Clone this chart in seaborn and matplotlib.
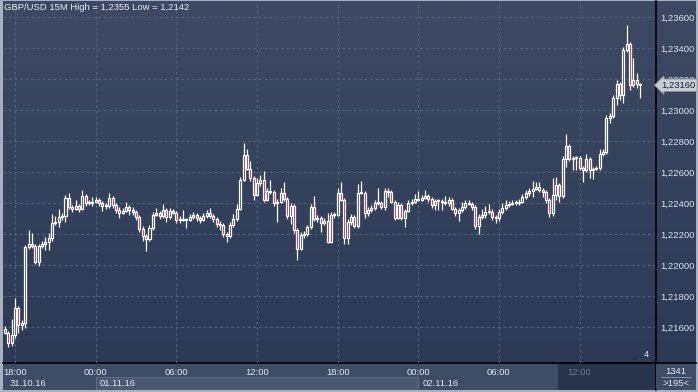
import numpy as np
import pandas as pd
import matplotlib
matplotlib.use("Agg")
import matplotlib.pyplot as plt
import seaborn as sns
from matplotlib.colors import LinearSegmentedColormap
from matplotlib.patches import Rectangle
import matplotlib.transforms as mtransforms

# GBP/USD 15 minute candles
first_open = 1.21588
close = [
    1.21562, 1.21497, 1.21549, 1.21723, 1.21613, 1.21626, 1.22116, 1.22136, 1.22123, 1.22020,
    1.22123, 1.22136, 1.22149, 1.22175, 1.22271, 1.22278, 1.22310, 1.22316, 1.22433, 1.22374,
    1.22362, 1.22381, 1.22362, 1.22445, 1.22400, 1.22400, 1.22407, 1.22420, 1.22400, 1.22381,
    1.22381, 1.22433, 1.22387, 1.22355, 1.22336, 1.22349, 1.22374, 1.22355, 1.22342, 1.22310,
    1.22233, 1.22187, 1.22168, 1.22239, 1.22323, 1.22336, 1.22316, 1.22355, 1.22310, 1.22349,
    1.22336, 1.22291, 1.22297, 1.22291, 1.22291, 1.22310, 1.22323, 1.22304, 1.22291, 1.22316,
    1.22336, 1.22316, 1.22297, 1.22265, 1.22258, 1.22200, 1.22187, 1.22258, 1.22297, 1.22362,
    1.22549, 1.22710, 1.22620, 1.22561, 1.22452, 1.22529, 1.22549, 1.22420, 1.22478, 1.22471,
    1.22400, 1.22407, 1.22465, 1.22426, 1.22316, 1.22381, 1.22226, 1.22104, 1.22194, 1.22200,
    1.22245, 1.22374, 1.22297, 1.22304, 1.22271, 1.22284, 1.22149, 1.22323, 1.22323, 1.22465,
    1.22420, 1.22175, 1.22278, 1.22310, 1.22252, 1.22465, 1.22465, 1.22336, 1.22355, 1.22368,
    1.22400, 1.22400, 1.22374, 1.22478, 1.22471, 1.22407, 1.22304, 1.22387, 1.22304, 1.22349,
    1.22400, 1.22407, 1.22426, 1.22420, 1.22433, 1.22445, 1.22426, 1.22387, 1.22413, 1.22413,
    1.22407, 1.22400, 1.22420, 1.22362, 1.22336, 1.22355, 1.22374, 1.22400, 1.22394, 1.22374,
    1.22252, 1.22310, 1.22323, 1.22342, 1.22342, 1.22310, 1.22304, 1.22342, 1.22368, 1.22387,
    1.22394, 1.22400, 1.22400, 1.22407, 1.22439, 1.22465, 1.22478, 1.22491, 1.22503, 1.22484,
    1.22471, 1.22420, 1.22336, 1.22452, 1.22516, 1.22445, 1.22684, 1.22768, 1.22684, 1.22690,
    1.22690, 1.22626, 1.22613, 1.22684, 1.22613, 1.22620, 1.22626, 1.22716, 1.22729, 1.22949,
    1.22961, 1.23078, 1.23168, 1.23097, 1.23387, 1.23426, 1.23161, 1.23194, 1.23165, 1.23160,
]
# wick lengths above / below the body, in pips
wick_up = [
    2, 1, 10, 6.5, 1, 2, 1, 9, 7, 1,
    1, 2, 3, 3, 6, 4, 5, 2, 2, 3,
    1, 4, 1, 4, 1, 2, 3, 2, 1, 1,
    2, 3, 1, 1, 2, 2, 3, 1, 2, 1,
    1, 2, 1, 2, 2, 3, 1, 4, 1, 2,
    1, 1, 2, 6, 1, 2, 2, 1, 1, 2,
    2, 3, 1, 1, 2, 1, 1, 2, 3, 3,
    2, 8, 4, 5, 1, 3, 3, 6, 2, 7,
    1, 2, 3, 7, 1, 2, 1, 1, 2, 2,
    1, 2, 7, 2, 1, 2, 5, 2, 2, 3,
    7, 1, 2, 2, 1, 6, 8, 1, 2, 2,
    2, 10, 1, 2, 2, 1, 1, 2, 1, 1,
    2, 2, 3, 5, 2, 4, 1, 1, 1, 1,
    1, 4, 2, 1, 1, 1, 3, 2, 2, 1,
    1, 2, 4, 4, 5, 2, 1, 2, 3, 3,
    2, 2, 2, 2, 2, 2, 2, 5, 3, 3,
    1, 1, 1, 11, 5, 1, 2, 8, 1, 1,
    1, 1, 1, 3, 1, 1, 1, 3, 2, 2,
    2, 2, 2.5, 1, 2, 12, 1, 14, 4.5, 1,
]
wick_dn = [
    1, 2.5, 2, 2, 5, 3, 3, 1, 1, 1.5,
    2.5, 1, 4, 5, 2, 1, 3, 2, 4, 1,
    2, 1, 2, 1, 2, 1, 2, 1, 2, 3,
    2, 1, 2, 2, 3, 1, 1, 3, 2, 2,
    2, 3, 8, 1, 1, 1, 2, 1, 3, 1,
    1, 2, 2, 1, 5, 1, 1, 2, 2, 1,
    1, 1, 2, 2, 3, 2, 4, 1, 1, 1,
    1, 1, 1, 2, 3, 1, 2, 1.5, 1, 1,
    2, 12, 1, 1, 2, 5, 2, 7, 1, 2,
    1, 1, 1, 2, 6, 1, 1, 1, 2, 1,
    1, 4, 4, 2, 1.5, 1, 1, 3, 2, 1,
    1, 1, 1, 2, 3, 1, 1.5, 1, 1.5, 6,
    1, 1, 1, 1, 1, 1, 2, 2, 3, 6,
    5, 1, 2, 1, 2, 5, 1, 1, 1, 2,
    2, 5, 1, 2, 1, 2, 3, 2, 1, 1,
    1, 1, 1, 1, 1, 1, 2, 4, 1, 1,
    3, 2, 2.5, 2, 3, 4, 1, 5, 1, 7,
    8, 1, 8, 1, 5, 6, 1, 1, 1, 1,
    3, 1, 4.5, 3, 5, 1, 3, 1, 2, 8,
]
start_time = "2016-10-31 17:15"
price_ticks = [1.216, 1.218, 1.220, 1.222, 1.224, 1.226, 1.228, 1.230, 1.232, 1.234, 1.236]
title = "GBP/USD 15M High = 1,2355 Low = 1,2142"
hilite_from = "2016-11-02 10:30"

W, H = 698, 392
sns.set_style("dark")
plt.rcParams['font.family'] = ['Liberation Sans', 'DejaVu Sans']

txt = '#e2e8f2'
red = '#e4003a'
upfill = '#34415c'

times = pd.date_range(start_time, periods=len(close), freq="15min")
df = pd.DataFrame({'t': times, 'close': close})
df['open'] = [first_open] + close[:-1]
df['high'] = df[['open', 'close']].max(axis=1) + np.array(wick_up) * 1e-4
df['low'] = df[['open', 'close']].min(axis=1) - np.array(wick_dn) * 1e-4
df['i'] = np.arange(len(df))

tick_pos = [i for i, t in enumerate(times) if t.minute == 0 and t.hour % 6 == 0]
day_pos = [i for i, t in enumerate(times) if t.minute == 0 and t.hour == 0]
hi_i = int(np.searchsorted(times, pd.Timestamp(hilite_from)))


def px(l, t, r, b):
    return [l / W, 1 - b / H, (r - l) / W, (b - t) / H]


fig = plt.figure(figsize=(W / 100, H / 100), dpi=100, facecolor='#a7b0bf')

# gradient background behind plot and price scale
bg = fig.add_axes(px(3, 1, 696, 363))
cmap = LinearSegmentedColormap.from_list('bg', ['#3e4a63', '#2c3a56'])
bg.imshow(np.linspace(0, 1, 256).reshape(-1, 1), aspect='auto', cmap=cmap, extent=[0, 1, 0, 1])
bg.axis('off')

xlim = (-0.6, 193.75)

# bottom time panel
axb = fig.add_axes(px(3, 363, 656, 390))
axb.set_facecolor('#3f4c66')
axb.set_xlim(*xlim)
axb.set_ylim(0, 1)
axb.set_xticks([])
axb.set_yticks([])
for s in ['left', 'bottom']:
    axb.spines[s].set_visible(False)
axb.spines['top'].set_color('black')
axb.spines['right'].set_color('black')
axb.spines['top'].set_linewidth(1.2)
axb.spines['right'].set_linewidth(1.2)
axb.add_patch(Rectangle((day_pos[0], 0), day_pos[1] - day_pos[0], 0.5, fc='#4c5973', ec='#5d6a83', lw=0.8))
axb.add_patch(Rectangle((hi_i - 0.5, 0), xlim[1] - hi_i + 0.5, 1, fc='#28334c', ec='none'))
for i in tick_pos:
    col = '#6d7a92' if i >= hi_i else txt
    axb.text(i, 0.66, times[i].strftime("%H:%M"), ha='center', va='center', fontsize=6.8, color=col)
axb.text(xlim[0] + 2.1, 0.25, times[0].strftime("%d.%m.%y"), ha='left', va='center', fontsize=6.8, color=txt)
for i in day_pos:
    axb.text(i + 1.2, 0.25, times[i].strftime("%d.%m.%y"), ha='left', va='center', fontsize=6.8, color=txt)

# corner box
axc = fig.add_axes(px(656, 363, 696, 390))
axc.set_facecolor('#3f4c66')
axc.set_xlim(0, 1)
axc.set_ylim(0, 1)
axc.set_xticks([])
axc.set_yticks([])
for s in axc.spines.values():
    s.set_visible(False)
axc.spines['top'].set_visible(True)
axc.spines['top'].set_color('black')
axc.spines['top'].set_linewidth(1.2)
axc.text(0.5, 0.7, "1341", transform=axc.transAxes, ha='center', va='center', fontsize=6.8, color=txt)
axc.plot([0.12, 0.88], [0.47, 0.47], transform=axc.transAxes, color='#8792a6', lw=0.7)
axc.text(0.5, 0.24, ">195<", transform=axc.transAxes, ha='center', va='center', fontsize=6.8, color=txt)

# main candle chart
ax = fig.add_axes(px(3, 1, 656, 363))
ax.patch.set_alpha(0)
ax.set_xlim(*xlim)
ax.set_ylim(1.21368, 1.23703)
ax.set_xticks(tick_pos)
ax.set_xticklabels([])
ax.set_yticks(price_ticks)
ax.set_yticklabels([f"{v:.5f}".replace('.', ',') for v in price_ticks])
ax.yaxis.tick_right()
ax.tick_params(axis='y', length=0, pad=3, labelsize=6.8, labelcolor='#dbe3ef')
ax.tick_params(axis='x', length=0)
ax.grid(True, color='#56647e', linestyle=(0, (2.5, 2.5)), linewidth=0.8)
for s in ['left', 'top', 'bottom']:
    ax.spines[s].set_visible(False)
ax.spines['right'].set_color('black')
ax.spines['right'].set_linewidth(1.2)

ax.vlines(df['i'], df['low'], df['high'], color='white', lw=0.9, zorder=3)
body = np.maximum((df['close'] - df['open']).abs(), 0.00004)
colors = np.where(df['close'] < df['open'], red, upfill)
ax.bar(df['i'], body, bottom=df[['open', 'close']].min(axis=1), width=0.6,
       color=colors, edgecolor='white', linewidth=0.9, zorder=4)

# last price marker on the scale
last = close[-1]
trans = mtransforms.blended_transform_factory(ax.transAxes, ax.transData)
ax.text(1.008, last, f"{last:.5f}".replace('.', ','), transform=trans, ha='left', va='center',
        fontsize=6.8, color='#1c2230', clip_on=False, zorder=10,
        bbox=dict(boxstyle='larrow,pad=0.18', fc='#c8ccd3', ec='#8e949e', lw=0.6))

ax.text(0.99, 0.012, "4", transform=ax.transAxes, ha='right', va='bottom', fontsize=6.8, color=txt)
ax.text(0.972, 0.006, "\u25b2", transform=ax.transAxes, ha='right', va='bottom', fontsize=4.5, color='#252f45')

fig.text(4 / W, 1 - 8 / H, title, ha='left', va='center', fontsize=6.8, color='#e8edf5')

fig.savefig("out.png", dpi=100, facecolor=fig.get_facecolor())
